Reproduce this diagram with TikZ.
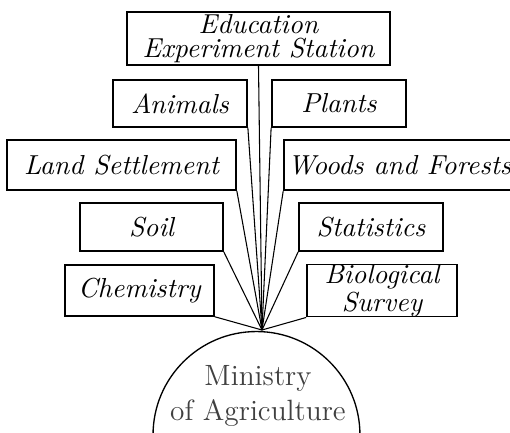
\documentclass[tikz,border=0pt]{standalone}
\usepackage{tikz}
\usetikzlibrary{positioning}
\begin{document}
\begin{tikzpicture}[x=0.375pt, y=-0.375pt, font=\fontsize{10.3}{9.2}\selectfont\itshape]
  \tikzstyle{dept}=[draw,line width=0.6pt,inner sep=0pt,align=center,minimum height=18pt]
  \tikzstyle{spoke}=[line width=0.4pt]
  \useasboundingbox (0,0) rectangle (510,433);
  \node[dept,minimum width=98.6pt,minimum height=19.9pt] (edu) at (258.5,38.5) {Education\\Experiment Station};
  \node[dept,minimum width=50.3pt,minimum height=17.6pt] (anim) at (180,103.5) {Animals};
  \node[dept,minimum width=50.3pt,minimum height=17.6pt] (plant) at (339,103.5) {Plants};
  \node[dept,minimum width=85.9pt,minimum height=18.8pt] (land) at (121.5,165) {Land Settlement};
  \node[dept,minimum width=86.6pt,minimum height=18.8pt] (wood) at (399.5,165) {Woods and Forests};
  \node[dept,minimum width=53.6pt] (soil) at (151.5,227) {Soil};
  \node[dept,minimum width=54pt] (stat) at (371,227) {Statistics};
  \node[dept,minimum width=55.9pt,minimum height=19.1pt] (chem) at (139.5,290.5) {Chemistry};
  \node[dept,minimum width=56.3pt,minimum height=19.1pt] (bio) at (382,290.5) {Biological\\Survey};
  \node[circle,draw,line width=0.5pt,minimum size=77.6pt] (min) at (256.5,435) {};
  \node[font=\fontsize{11}{12.8}\selectfont\upshape,text=black!75,align=center] (mintxt) at (258,396) {Ministry\\of Agriculture};
  \coordinate (hub) at (262,330);
  \draw[spoke] (edu.south) -- (hub);
  \draw[spoke] (anim.south east) -- (hub);
  \draw[spoke] (plant.south west) -- (hub);
  \draw[spoke] (land.south east) -- (hub);
  \draw[spoke] (wood.south west) -- (hub);
  \draw[spoke] (soil.south east) -- (hub);
  \draw[spoke] (stat.south west) -- (hub);
  \draw[spoke] (chem.south east) -- (hub);
  \draw[spoke] (bio.south west) -- (hub);
\end{tikzpicture}
\end{document}
